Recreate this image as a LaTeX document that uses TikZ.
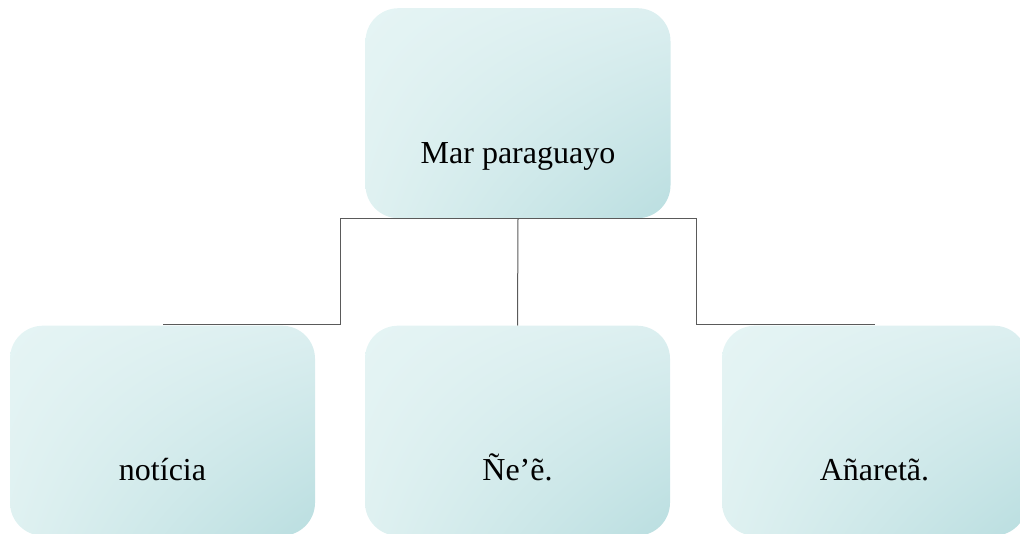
\documentclass[tikz,border=0pt]{standalone}
\usepackage{fontspec}
\setmainfont{Liberation Serif}
\usetikzlibrary{shadings}
\definecolor{fillUL}{RGB}{229,244,244}
\definecolor{fillUR}{RGB}{220,239,240}
\definecolor{fillLL}{RGB}{223,241,241}
\definecolor{fillLR}{RGB}{186,222,224}
\definecolor{connGray}{RGB}{90,90,90}
\begin{document}
\begin{tikzpicture}[x=1pt,y=-1pt,
  box/.style={draw=none, rounded corners=33pt, inner sep=0pt,
    minimum width=305pt, text height=155pt, text depth=55pt,
    font=\fontsize{32}{38}\selectfont, anchor=north,
    upper left=fillUL, upper right=fillUR,
    lower left=fillLL, lower right=fillLR},
  conn/.style={draw=connGray, line width=1pt}]
\useasboundingbox (0,0) rectangle (1020,534);
\begin{scope}
\clip (0,0) rectangle (1020,534);
% parent and children
\node[box] (top) at (518,8) {Mar paraguayo};
\node[box] (left) at (162.5,325.5) {notícia};
\node[box] (mid) at (517.5,325.5) {Ñe’ẽ.};
\node[box] (right) at (874.5,325.5) {Añaretã.};
\end{scope}
% elbow junctions of the connector tree
\coordinate (jl) at (340,324.5);
\coordinate (jr) at (696,324.5);
\coordinate (lend) at (left.north |- jl);
\coordinate (rend) at (right.north |- jr);
\draw[conn] (top.south) -| (jl) -- (lend);
\draw[conn] (top.south) -| (jr) -- (rend);
\draw[conn] (top.south) -- (mid.north);
\end{tikzpicture}
\end{document}
